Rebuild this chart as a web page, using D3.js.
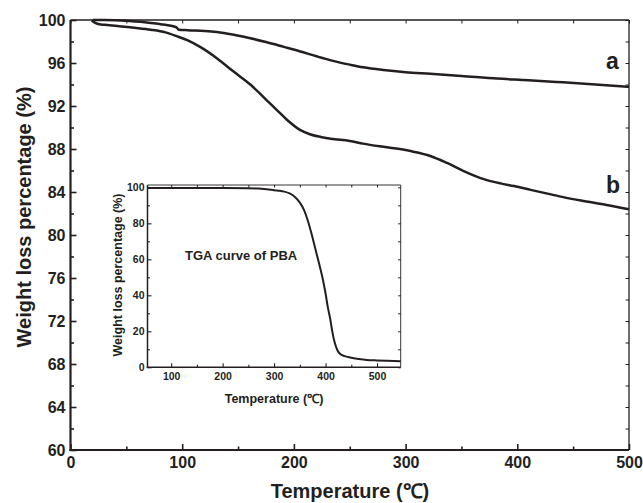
<!DOCTYPE html>
<html><head><meta charset="utf-8">
<script src="https://cdn.jsdelivr.net/npm/d3@7"></script>
<style>
body{margin:0;background:#fff;}
text{font-family:"Liberation Sans",Arial,sans-serif;font-weight:bold;fill:#231f20;}
</style></head>
<body>
<script>
// Main chart data
const tempA = [20,30,40,53,70,85,92,95,97,105,120,131,145,161,175,191,205,221,235,250,262,280,300,322,350,382,410,441,470,500];
const valA  = [100,100,99.98,99.9,99.75,99.55,99.42,99.3,99.1,99.05,98.98,98.88,98.65,98.3,97.95,97.5,97.1,96.6,96.2,95.85,95.6,95.35,95.15,95.0,94.8,94.55,94.4,94.2,94.0,93.78];
const tempB = [19,21,24,30,42,55,72,85,95,105,116,131,146,161,175,185,195,205,215,225,233,250,262,280,300,307,322,337,352,370,385,397,412,427,442,457,480,500];
const valB  = [99.95,99.8,99.65,99.55,99.45,99.3,99.1,98.85,98.5,98.1,97.5,96.45,95.2,94.0,92.6,91.6,90.6,89.8,89.35,89.1,88.95,88.75,88.5,88.2,87.9,87.75,87.35,86.7,85.95,85.2,84.8,84.55,84.2,83.85,83.5,83.2,82.8,82.4];
const xTicks = [0,100,200,300,400,500];
const xMinor = [50,150,250,350,450];
const yTicks = [60,64,68,72,76,80,84,88,92,96,100];
const yMinor = [62,66,70,74,78,82,86,90,94,98];
const seriesLabels = ["a","b"];

// Inset data (TGA curve of PBA)
const tempPBA = [54,100,150,200,250,270,290,300,311,320,330,340,350,358,365,372,380,388,395,400,404,409,413,418,423,428,437,448,465,480,500,520,546];
const valPBA  = [99.6,99.6,99.6,99.6,99.5,99.3,98.8,98.4,98.1,97.6,96.6,94.8,91.5,87.5,82,75,66,57,48.5,41,34,27,20,13.5,9.5,7.5,6.2,5.4,4.6,4.1,3.8,3.6,3.4];
const insetXTicks = [100,200,300,400,500];
const insetXMinor = [150,250,350,450];
const insetYTicks = [0,20,40,60,80,100];
const insetYMinor = [10,30,50,70,90];

const W = 643, H = 503;
const svg = d3.select("body").append("svg").attr("width", W).attr("height", H);
const ink = "#231f20";

// ---- main chart ----
const x = d3.scaleLinear().domain([0,500]).range([70.5,629]);
const y = d3.scaleLinear().domain([60,100]).range([450,20]);

function drawAxes(g, xs, ys, opt){
  const [x0,x1] = xs.range(), [y0,y1] = ys.range();
  // bottom major
  g.append("g").attr("transform",`translate(0,${y0})`)
    .call(d3.axisBottom(xs).tickValues(opt.xT).tickSize(-opt.maj).tickPadding(opt.xPad).tickFormat(d3.format("d")))
    .call(a=>{a.select(".domain").remove(); a.selectAll("line").attr("stroke",ink).attr("stroke-width",opt.tw);
      a.selectAll("text").attr("font-size",opt.fs).attr("fill",ink).attr("font-family",null);});
  g.append("g").attr("transform",`translate(0,${y0})`)
    .call(d3.axisBottom(xs).tickValues(opt.xM).tickSize(-opt.min).tickFormat(""))
    .call(a=>{a.select(".domain").remove(); a.selectAll("line").attr("stroke",ink).attr("stroke-width",opt.tw);});
  // left
  g.append("g").attr("transform",`translate(${x0},0)`)
    .call(d3.axisLeft(ys).tickValues(opt.yT).tickSize(-opt.maj).tickPadding(opt.yPad).tickFormat(d3.format("d")))
    .call(a=>{a.select(".domain").remove(); a.selectAll("line").attr("stroke",ink).attr("stroke-width",opt.tw);
      a.selectAll("text").attr("font-size",opt.fs).attr("fill",ink).attr("font-family",null);});
  g.append("g").attr("transform",`translate(${x0},0)`)
    .call(d3.axisLeft(ys).tickValues(opt.yM).tickSize(-opt.min).tickFormat(""))
    .call(a=>{a.select(".domain").remove(); a.selectAll("line").attr("stroke",ink).attr("stroke-width",opt.tw);});
  // top & right mirror ticks (thin)
  g.append("g").attr("transform",`translate(0,${y1})`)
    .call(d3.axisTop(xs).tickValues(opt.xT.concat(opt.xM)).tickSize(-opt.min).tickFormat(""))
    .call(a=>{a.select(".domain").remove(); a.selectAll("line").attr("stroke",ink).attr("stroke-width",1);});
  g.append("g").attr("transform",`translate(${x1},0)`)
    .call(d3.axisRight(ys).tickValues(opt.yT.concat(opt.yM)).tickSize(-opt.min).tickFormat(""))
    .call(a=>{a.select(".domain").remove(); a.selectAll("line").attr("stroke",ink).attr("stroke-width",1);});
  // frame
  g.append("line").attr("x1",x0).attr("x2",x1).attr("y1",y1).attr("y2",y1).attr("stroke",ink).attr("stroke-width",opt.thin);
  g.append("line").attr("x1",x1).attr("x2",x1).attr("y1",y1).attr("y2",y0).attr("stroke",ink).attr("stroke-width",opt.thin);
  g.append("line").attr("x1",x0-opt.thick/2).attr("x2",x1).attr("y1",y0).attr("y2",y0).attr("stroke",ink).attr("stroke-width",opt.thick);
  g.append("line").attr("x1",x0).attr("x2",x0).attr("y1",y1).attr("y2",y0+opt.thick/2).attr("stroke",ink).attr("stroke-width",opt.thick);
}

const main = svg.append("g");
drawAxes(main, x, y, {xT:xTicks,xM:xMinor,yT:yTicks,yM:yMinor,maj:6,min:3.5,tw:1.6,fs:16,xPad:7,yPad:5,thin:1.3,thick:2.2});

const line = d3.line().x(d=>x(d[0])).y(d=>y(d[1])).curve(d3.curveMonotoneX);
main.append("path").datum(tempA.map((t,i)=>[t,valA[i]])).attr("d",line)
  .attr("fill","none").attr("stroke",ink).attr("stroke-width",2.5);
main.append("path").datum(tempB.map((t,i)=>[t,valB[i]])).attr("d",line)
  .attr("fill","none").attr("stroke",ink).attr("stroke-width",2.5);

main.append("text").attr("x",606).attr("y",69).attr("font-size",23).text(seriesLabels[0]);
main.append("text").attr("x",606).attr("y",193).attr("font-size",23).text(seriesLabels[1]);

main.append("text").attr("x",350).attr("y",498).attr("text-anchor","middle").attr("font-size",20).text("Temperature (℃)");
main.append("text").attr("transform","translate(31,217) rotate(-90)").attr("text-anchor","middle").attr("font-size",20).text("Weight loss percentage (%)");

// ---- inset ----
const xi = d3.scaleLinear().domain([54,546]).range([147.5,400.7]);
const yi = d3.scaleLinear().domain([0,101.3]).range([367.3,185]);
const inset = svg.append("g");
drawAxes(inset, xi, yi, {xT:insetXTicks,xM:insetXMinor,yT:insetYTicks,yM:insetYMinor,maj:4,min:2.5,tw:1.1,fs:10.5,xPad:5,yPad:3,thin:0.9,thick:1.5});
const linei = d3.line().x(d=>xi(d[0])).y(d=>yi(d[1])).curve(d3.curveMonotoneX);
inset.append("path").datum(tempPBA.map((t,i)=>[t,valPBA[i]])).attr("d",linei)
  .attr("fill","none").attr("stroke",ink).attr("stroke-width",2);
inset.append("text").attr("x",185).attr("y",260).attr("font-size",13).text("TGA curve of PBA");
inset.append("text").attr("x",274).attr("y",403).attr("text-anchor","middle").attr("font-size",12.5).text("Temperature (℃)");
inset.append("text").attr("transform","translate(122,275) rotate(-90)").attr("text-anchor","middle").attr("font-size",12.5).text("Weight loss percentage (%)");
</script>
</body></html>
